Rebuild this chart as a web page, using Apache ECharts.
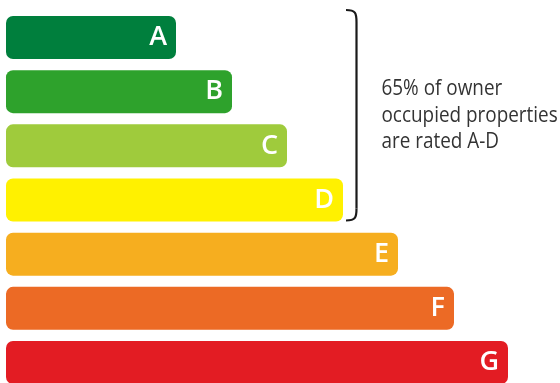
<!DOCTYPE html>
<html>
<head>
<meta charset="utf-8">
<script src="https://cdn.jsdelivr.net/npm/echarts@6/dist/echarts.min.js"></script>
<style>
  html, body { margin: 0; padding: 0; background: #fff; }
  #chart { width: 560px; height: 383px; }
</style>
</head>
<body>
<div id="chart"></div>
<script>
// Energy efficiency bands, top (best) to bottom (worst)
const bands = ['A', 'B', 'C', 'D', 'E', 'F', 'G'];
// Relative bar length of each band
const barLengths = [170, 226, 281, 337, 392, 448, 502];
const bandColors = ['#007f3d', '#2ea22c', '#9fcb3c', '#fff100', '#f6ae1f', '#ec6a25', '#e31c23'];
const noteLines = ['65% of owner', 'occupied properties', 'are rated A-D'];

const chart = echarts.init(document.getElementById('chart'), null, { renderer: 'canvas' });

const option = {
  animation: false,
  backgroundColor: '#ffffff',
  // band centres sit on the grid edges (boundaryGap off), so the outer bars spill past it
  grid: { left: 6, top: 37.5, right: 52, bottom: 20.5, containLabel: false },
  xAxis: {
    type: 'value', min: 0, max: 502,
    show: false
  },
  yAxis: {
    type: 'category', data: bands, inverse: true, boundaryGap: false,
    show: false
  },
  series: [{
    type: 'bar',
    data: barLengths.map((v, i) => ({ value: v, itemStyle: { color: bandColors[i] } })),
    barWidth: 43,
    clip: false,
    itemStyle: { borderRadius: 7 },
    label: {
      show: true,
      position: 'insideRight',
      distance: 9,
      formatter: p => p.name,
      color: '#ffffff',
      fontFamily: 'Open Sans',
      fontWeight: 600,
      fontSize: 27
    }
  }]
};
chart.setOption(option);

// Bracket spanning bands A-D, plus its note
const yA = chart.convertToPixel({ yAxisIndex: 0 }, 'A');
const yD = chart.convertToPixel({ yAxisIndex: 0 }, 'D');
const xD = chart.convertToPixel({ xAxisIndex: 0 }, barLengths[3]);
const bTop = yA - 27.5, bBot = yD + 20.5;
const xv = xD + 13.5, x0 = xD + 3;
const bracketStyle = { stroke: '#1a1a1a', lineWidth: 2.2, fill: null };

chart.setOption({
  graphic: [
    {
      type: 'bezierCurve',
      shape: { x1: x0, y1: bTop, cpx1: xv - 1, cpy1: bTop, cpx2: xv, cpy2: bTop + 3, x2: xv, y2: bTop + 12 },
      style: bracketStyle
    },
    {
      type: 'line',
      shape: { x1: xv, y1: bTop + 12, x2: xv, y2: bBot - 12 },
      style: bracketStyle
    },
    {
      type: 'bezierCurve',
      shape: { x1: xv, y1: bBot - 12, cpx1: xv, cpy1: bBot - 3, cpx2: xv - 1, cpy2: bBot, x2: x0, y2: bBot },
      style: bracketStyle
    },
    {
      type: 'text',
      x: xv + 25, y: (bTop + bBot) / 2 - 39,
      scaleX: 0.9,
      style: {
        text: noteLines.join('\n'),
        fontFamily: 'Open Sans',
        fontSize: 21,
        lineHeight: 26.5,
        fill: '#333333'
      }
    }
  ]
});
</script>
</body>
</html>
